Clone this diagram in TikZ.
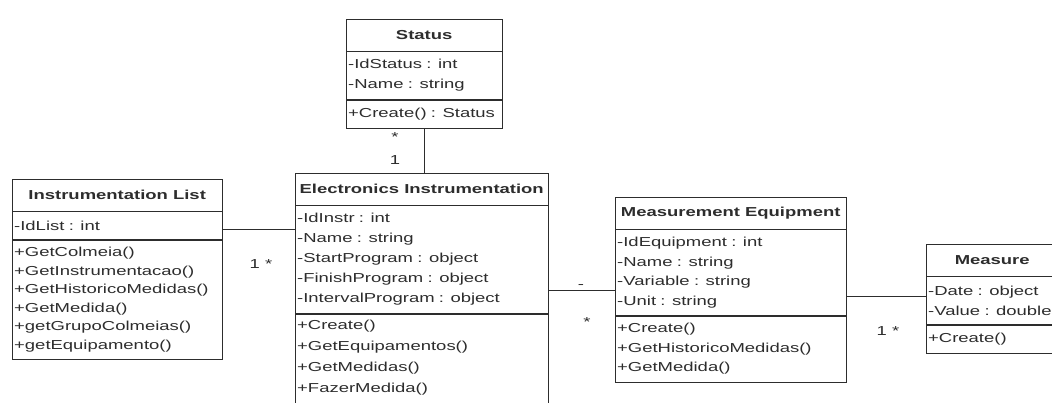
\documentclass[tikz,border=0pt]{standalone}
\usepackage{fontspec}
\setmainfont[FakeStretch=1.42]{Liberation Sans}
\usetikzlibrary{positioning}
\definecolor{umlgray}{RGB}{45,45,45}

\begin{document}
\begin{tikzpicture}[
        x=1pt, y=-1pt,
        font=\fontsize{13}{20}\selectfont,
        classname/.style={draw=umlgray, text=umlgray, font=\fontsize{13}{20}\selectfont\bfseries, minimum height=32pt, inner sep=0pt, anchor=north west},
        members/.style={draw=umlgray, text=umlgray, align=left, inner xsep=2pt, inner ysep=4pt, anchor=north},
        assoc/.style={draw=umlgray, line width=0.6pt},
        mult/.style={text=umlgray, inner sep=1pt}
    ]
        \useasboundingbox[fill=white] (0,0) rectangle (1052,403);

        % Status
        \node[classname, minimum width=156pt] (statusT) at (346,19) {Status};
        \node[members, text width=152pt, minimum height=48pt, below=0pt of statusT] (statusA) {-IdStatus : int\\-Name : string};
        \node[members, text width=152pt, minimum height=28pt, below=0pt of statusA] (statusM) {+Create() : Status};

        % Instrumentation List
        \node[classname, minimum width=210pt] (instlistT) at (12,179) {Instrumentation List};
        \node[members, text width=206pt, minimum height=28pt, below=0pt of instlistT] (instlistA) {-IdList : int};
        \node[members, text width=206pt, minimum height=119pt, font=\fontsize{13}{18.5}\selectfont, below=0pt of instlistA] (instlistM) {+GetColmeia()\\+GetInstrumentacao()\\+GetHistoricoMedidas()\\+GetMedida()\\+getGrupoColmeias()\\+getEquipamento()};

        % Electronics Instrumentation
        \node[classname, minimum width=253pt] (electronicsT) at (295,173) {Electronics Instrumentation};
        \node[members, text width=249pt, minimum height=108pt, below=0pt of electronicsT] (electronicsA) {-IdInstr : int\\-Name : string\\-StartProgram : object\\-FinishProgram : object\\-IntervalProgram : object};
        \node[members, text width=249pt, inner ysep=6pt, font=\fontsize{13}{21}\selectfont, below=0pt of electronicsA] (electronicsM) {+Create()\\+GetEquipamentos()\\+GetMedidas()\\+FazerMedida()\\\strut};

        % Measurement Equipment
        \node[classname, minimum width=231pt] (equipmentT) at (615,197) {Measurement Equipment};
        \node[members, text width=227pt, minimum height=86pt, font=\fontsize{13}{19.5}\selectfont, below=0pt of equipmentT] (equipmentA) {-IdEquipment : int\\-Name : string\\-Variable : string\\-Unit : string};
        \node[members, text width=227pt, minimum height=66pt, font=\fontsize{13}{19.5}\selectfont, below=0pt of equipmentA] (equipmentM) {+Create()\\+GetHistoricoMedidas()\\+GetMedida()};

        % Measure
        \node[classname, minimum width=132pt] (measureT) at (926,244) {Measure};
        \node[members, text width=128pt, minimum height=48pt, below=0pt of measureT] (measureA) {-Date : object\\-Value : double};
        \node[members, text width=128pt, minimum height=28pt, below=0pt of measureA] (measureM) {+Create()};

        % associations
        \draw[assoc] (statusM.south) -- (statusM.south |- electronicsT.north);
        \draw[assoc] (instlistA.east |- 0,229) -- (electronicsA.west |- 0,229);
        \draw[assoc] (electronicsA.east |- 0,290) -- (equipmentA.west |- 0,290);
        \draw[assoc] (equipmentA.east |- 0,296) -- (measureA.west |- 0,296);

        % multiplicities
        \node[mult] (mStatus) at (395,137) {*};
        \node[mult] (mElecTop) at (395,160) {1};
        \node[mult] (mList) at (261,264) {1 *};
        \node[mult] (mElecRight) at (581,287) {-};
        \node[mult] (mEquipLeft) at (587,322) {*};
        \node[mult] (mEquipRight) at (888,331) {1 *};

    \end{tikzpicture}
\end{document}
